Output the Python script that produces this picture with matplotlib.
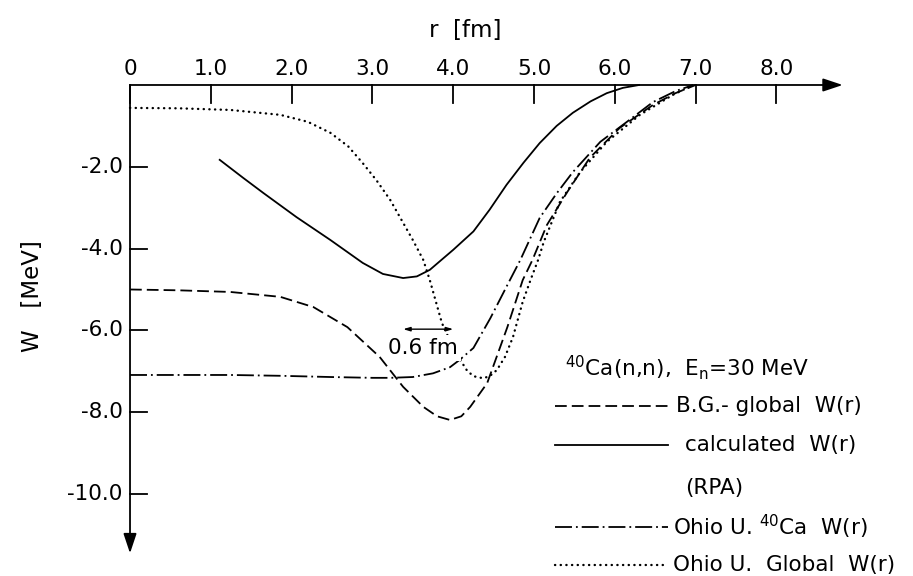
import numpy as np
import matplotlib.pyplot as plt
from matplotlib.lines import Line2D

# imaginary potential W(r) for 40Ca(n,n) at 30 MeV
r_bg = [0, 0.6, 1.24, 1.86, 2.27, 2.69, 3.09, 3.38, 3.63, 3.8, 3.96, 4.1, 4.21,
        4.42, 4.67, 4.86, 4.98, 5.16, 5.41, 5.69, 6.06, 6.47, 6.75, 7.0]
w_bg = [-5.0, -5.02, -5.06, -5.18, -5.43, -5.92, -6.65, -7.38, -7.87, -8.1, -8.19,
        -8.1, -7.87, -7.29, -5.92, -4.77, -4.28, -3.42, -2.62, -1.78, -1.05, -0.49,
        -0.2, 0.0]

r_rpa = [1.11, 1.4, 1.65, 2.06, 2.48, 2.88, 3.13, 3.38, 3.55, 3.71, 3.84, 4.0, 4.25,
         4.45, 4.66, 4.87, 5.07, 5.28, 5.48, 5.7, 5.9, 6.1, 6.3]
w_rpa = [-1.83, -2.27, -2.64, -3.23, -3.79, -4.35, -4.62, -4.72, -4.68, -4.52, -4.3,
         -4.03, -3.58, -3.05, -2.44, -1.9, -1.42, -1.0, -0.68, -0.4, -0.2, -0.07, 0.0]

r_ohio = [0, 0.6, 1.24, 1.86, 2.48, 3.0, 3.22, 3.5, 3.75, 3.96, 4.08, 4.25, 4.46,
          4.67, 4.83, 5.07, 5.28, 5.48, 5.82, 6.15, 6.47, 6.75, 6.97]
w_ohio = [-7.09, -7.09, -7.09, -7.11, -7.14, -7.16, -7.16, -7.14, -7.05, -6.9, -6.72,
          -6.43, -5.7, -4.89, -4.28, -3.25, -2.65, -2.13, -1.39, -0.9, -0.42, -0.15, 0.0]

r_glob = [0, 0.6, 1.24, 1.86, 2.2, 2.48, 2.7, 2.88, 3.05, 3.22, 3.36, 3.5, 3.63, 3.71,
          3.86, 3.97, 4.08, 4.17, 4.25, 4.37, 4.45, 4.54, 4.64, 4.74, 4.86, 4.96, 5.05,
          5.12, 5.32, 5.57, 5.9, 6.31, 6.72, 6.97]
w_glob = [-0.56, -0.57, -0.61, -0.73, -0.9, -1.17, -1.5, -1.91, -2.33, -2.81, -3.3,
          -3.79, -4.28, -4.77, -5.82, -6.3, -6.7, -6.98, -7.12, -7.17, -7.12, -6.97,
          -6.65, -6.16, -5.3, -4.75, -4.28, -3.84, -2.86, -2.13, -1.39, -0.73, -0.24, 0.0]

x_ticks = [0, 1, 2, 3, 4, 5, 6, 7, 8]
x_labels = ["0", "1.0", "2.0", "3.0", "4.0", "5.0", "6.0", "7.0", "8.0"]
y_ticks = [-2, -4, -6, -8, -10]
y_labels = ["-2.0", "-4.0", "-6.0", "-8.0", "-10.0"]

W, H = 913, 576
FS = 15.5


def px(x, y):
    return x / W, 1 - y / H


fig = plt.figure(figsize=(W / 100, H / 100), dpi=100)
ax = fig.add_axes([0, 0, 1, 1])
ax.set_xlim(-1.609, 9.690)
ax.set_ylim(-12.005, 2.078)
ax.axis("off")

lw = 1.3
dash = dict(color="k", lw=lw, dashes=(6.5, 2.8))
solid = dict(color="k", lw=lw)
dashdot = dict(color="k", lw=lw, dashes=(9.4, 2.2, 1.0, 2.2))
dots = dict(color="k", lw=1.7, dashes=(0.1, 2.3), dash_capstyle="round")

ax.plot(r_bg, w_bg, **dash)
ax.plot(r_rpa, w_rpa, **solid)
ax.plot(r_ohio, w_ohio, **dashdot)
ax.plot(r_glob, w_glob, **dots)

# axes with arrows
arr = dict(arrowstyle="-|>,head_length=0.6,head_width=0.2", lw=1.3, color="k",
           mutation_scale=20, shrinkA=0, shrinkB=0)
ax.annotate("", xy=(8.82, 0), xytext=(0, 0), arrowprops=arr)
ax.annotate("", xy=(0, -11.45), xytext=(0, 0), arrowprops=arr)

for t, lab in zip(x_ticks, x_labels):
    ax.plot([t, t], [0, -0.44], color="k", lw=1.3)
    ax.text(t, 0.38, lab, ha="center", va="center", fontsize=FS)
for t, lab in zip(y_ticks, y_labels):
    ax.plot([0, 0.21], [t, t], color="k", lw=1.3)
    ax.text(-0.09, t, lab, ha="right", va="center", fontsize=FS)

fig.text(*px(465, 31), "r  [fm]", ha="center", va="center", fontsize=FS + 1)
fig.text(*px(33, 296), "W   [MeV]", ha="center", va="center", rotation=90,
         fontsize=FS + 1)

# 0.6 fm marker
ax.annotate("", xy=(4.0, -5.97), xytext=(3.38, -5.97),
            arrowprops=dict(arrowstyle="<|-|>,head_length=0.4,head_width=0.12",
                            lw=1.0, color="k", mutation_scale=10,
                            shrinkA=0, shrinkB=0))
ax.text(*px(423, 348), "0.6 fm", transform=fig.transFigure, ha="center",
        va="center", fontsize=FS, zorder=5,
        bbox=dict(facecolor="white", edgecolor="none", pad=2.5))

# key
fig.text(*px(565, 368), r"$^{40}$Ca(n,n),  E$_{\rm n}$=30 MeV", ha="left",
         va="center", fontsize=FS)
keys = [
    (dash, 406, 676, "B.G.- global  W(r)"),
    (solid, 445, 685, "calculated  W(r)"),
    (dashdot, 527, 673, r"Ohio U. $^{40}$Ca  W(r)"),
    (dots, 565, 673, "Ohio U.  Global  W(r)"),
]
for style, y, xt, lab in keys:
    x0, yy = px(555, y)
    x1, _ = px(668, y)
    fig.add_artist(Line2D([x0, x1], [yy, yy], transform=fig.transFigure, **style))
    fig.text(*px(xt, y), lab, ha="left", va="center", fontsize=FS)
fig.text(*px(685, 488), "(RPA)", ha="left", va="center", fontsize=FS)

fig.savefig("out.png", dpi=100)
